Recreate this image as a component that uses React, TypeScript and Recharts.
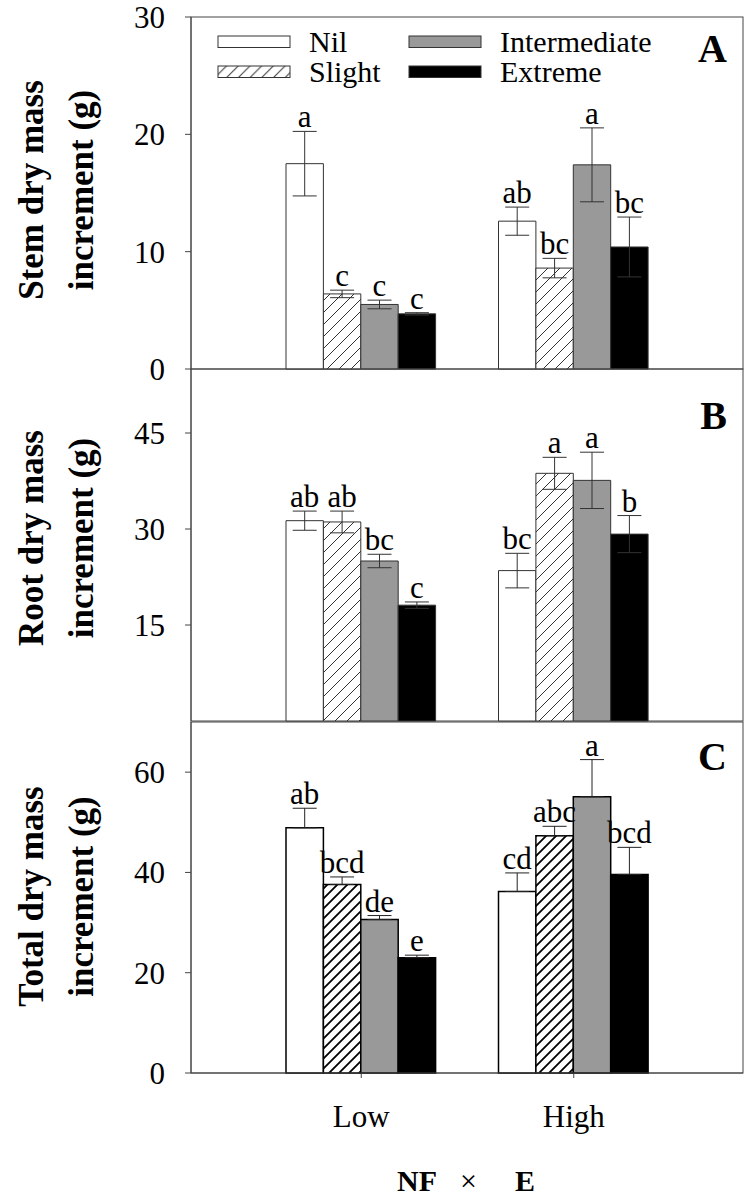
import React from 'react';
import { BarChart, Bar, XAxis, YAxis, ErrorBar, LabelList } from 'recharts';

// ---------- data ----------
const groups = ['Low', 'High'];
const seriesNames = ['Nil', 'Slight', 'Intermediate', 'Extreme'];

// Panel A: stem dry mass increment (g)
const stemNil = [17.5, 12.6];
const stemSlight = [6.4, 8.6];
const stemInter = [5.5, 17.4];
const stemExtreme = [4.7, 10.4];
const stemNilSe = [2.75, 1.2];
const stemSlightSe = [0.32, 0.83];
const stemInterSe = [0.37, 3.15];
const stemExtremeSe = [0.1, 2.55];
const stemNilLet = ['a', 'ab'];
const stemSlightLet = ['c', 'bc'];
const stemInterLet = ['c', 'a'];
const stemExtremeLet = ['c', 'bc'];

// Panel B: root dry mass increment (g)
const rootNil = [31.3, 23.5];
const rootSlight = [31.1, 38.7];
const rootInter = [25.0, 37.6];
const rootExtreme = [18.1, 29.2];
const rootNilSe = [1.5, 2.7];
const rootSlightSe = [1.7, 2.5];
const rootInterSe = [1.05, 4.4];
const rootExtremeSe = [0.5, 2.9];
const rootNilLet = ['ab', 'bc'];
const rootSlightLet = ['ab', 'a'];
const rootInterLet = ['bc', 'a'];
const rootExtremeLet = ['c', 'b'];

// Panel C: total dry mass increment (g) (upper error only)
const totalNil = [48.9, 36.2];
const totalSlight = [37.6, 47.3];
const totalInter = [30.6, 55.1];
const totalExtreme = [23.0, 39.6];
const totalNilSe = [3.9, 3.7];
const totalSlightSe = [1.5, 1.9];
const totalInterSe = [0.8, 7.4];
const totalExtremeSe = [0.5, 5.4];
const totalNilLet = ['ab', 'cd'];
const totalSlightLet = ['bcd', 'abc'];
const totalInterLet = ['de', 'a'];
const totalExtremeLet = ['e', 'bcd'];

const stemTicks = [0, 10, 20, 30];
const rootTicks = [15, 30, 45];
const totalTicks = [0, 20, 40, 60];

// ---------- helpers ----------
const SERIF = '"Liberation Serif", Tinos, "Times New Roman", Times, serif';
const keys = ['nil', 'slight', 'inter', 'extreme'];

function buildRows(vals: number[][], ses: number[][], oneSided: boolean) {
  return groups.map((g, i) => {
    const row: any = { group: g };
    keys.forEach((k, j) => {
      row[k] = vals[j][i];
      row[k + 'Se'] = oneSided ? [0, ses[j][i]] : ses[j][i];
    });
    return row;
  });
}

const stemRows = buildRows(
  [stemNil, stemSlight, stemInter, stemExtreme],
  [stemNilSe, stemSlightSe, stemInterSe, stemExtremeSe],
  false
);
const rootRows = buildRows(
  [rootNil, rootSlight, rootInter, rootExtreme],
  [rootNilSe, rootSlightSe, rootInterSe, rootExtremeSe],
  false
);
const totalRows = buildRows(
  [totalNil, totalSlight, totalInter, totalExtreme],
  [totalNilSe, totalSlightSe, totalInterSe, totalExtremeSe],
  true
);

const makeLetter = (letters: string[], se: number[]) => (props: any) => {
  const { x, y, width, height, value, index } = props;
  if (value == null || !height) return null;
  const pxPer = Math.abs(height) / value;
  const top = y - se[index] * pxPer;
  return (
    <text
      x={x + width / 2}
      y={top - 4}
      textAnchor="middle"
      fontFamily={SERIF}
      fontSize={31}
      fill="#000"
    >
      {letters[index]}
    </text>
  );
};

const yTitle = (line1: string, line2: string, shift: number) => (props: any) => {
  const vb = props.viewBox || {};
  const cy = vb.y + vb.height / 2 + shift;
  const x1 = vb.x + 43;
  const x2 = vb.x + 93;
  return (
    <g>
      <text
        x={x1}
        y={cy}
        transform={`rotate(-90, ${x1}, ${cy})`}
        textAnchor="middle"
        fontFamily={SERIF}
        fontWeight="bold"
        fontSize={35}
        fill="#000"
      >
        {line1}
      </text>
      <text
        x={x2}
        y={cy}
        transform={`rotate(-90, ${x2}, ${cy})`}
        textAnchor="middle"
        fontFamily={SERIF}
        fontWeight="bold"
        fontSize={35}
        fill="#000"
      >
        {line2}
      </text>
    </g>
  );
};

const xTitle = (props: any) => {
  const vb = props.viewBox || {};
  const cx = vb.x + vb.width / 2;
  return (
    <text x={cx - 70} y={vb.y + 118} fontFamily={SERIF} fontSize={30} fill="#000">
      <tspan fontWeight="bold">NF</tspan>
      <tspan dx={23}>×</tspan>
      <tspan dx={38} fontWeight="bold">E</tspan>
    </text>
  );
};

const AXIS = '#444';
const tickStyle = { fontFamily: SERIF, fontSize: 31, fill: '#000' };

const Hatch = ({ id, size, color, sw }: { id: string; size: number; color: string; sw: number }) => (
  <defs>
    <pattern id={id} patternUnits="userSpaceOnUse" width={size} height={size}>
      <rect x={0} y={0} width={size} height={size} fill="#fff" />
      <path
        d={`M0,${size} L${size},0 M${-size / 4},${size / 4} L${size / 4},${-size / 4} M${size * 0.75},${size * 1.25} L${size * 1.25},${size * 0.75}`}
        stroke={color}
        strokeWidth={sw}
      />
    </pattern>
  </defs>
);

const LegendBlock = () => {
  const cols = [218, 409];
  const rows = [36, 66];
  const fills = ['#ffffff', 'url(#hatchLeg)', '#999999', '#000000'];
  return (
    <g>
      {seriesNames.map((name, i) => {
        const col = i < 2 ? 0 : 1;
        const row = i % 2;
        const x = cols[col];
        const y = rows[row];
        return (
          <g key={name}>
            <rect x={x} y={y} width={72} height={11.5} fill={fills[i]} stroke="#333" strokeWidth={1} />
            <text x={x + 91} y={y + 16} fontFamily={SERIF} fontSize={30} fill="#000">
              {name}
            </text>
          </g>
        );
      })}
    </g>
  );
};

type PanelProps = {
  rows: any[];
  domain: [number, number];
  ticks: number[];
  top: number;
  height: number;
  marginTop: number;
  marginBottom: number;
  plotH: number;
  hatchId: string;
  hatchSize: number;
  hatchColor: string;
  hatchSw: number;
  barStroke: string;
  barSw: number;
  errStroke: string;
  letters: string[][];
  ses: number[][];
  title: [string, string];
  titleShift: number;
  panel: string;
  panelY: number;
  bottom: boolean;
  legend?: boolean;
};

const PLOT_LEFT = 191;
const PLOT_RIGHT = 743;

const Panel = (p: PanelProps) => {
  const fills = ['#ffffff', `url(#${p.hatchId})`, '#999999', '#000000'];
  return (
    <div style={{ position: 'absolute', left: 0, top: p.top, width: 750, height: p.height }}>
      <BarChart
        width={750}
        height={p.height}
        data={p.rows}
        margin={{ top: p.marginTop, right: 750 - PLOT_RIGHT, bottom: p.marginBottom, left: 0 }}
        barGap={0}
        barSize={37.4}
      >
        <Hatch id={p.hatchId} size={p.hatchSize} color={p.hatchColor} sw={p.hatchSw} />
        {p.legend ? <Hatch id="hatchLeg" size={11.7} color="#333" sw={1} /> : null}
        <rect
          x={PLOT_LEFT}
          y={p.marginTop}
          width={PLOT_RIGHT - PLOT_LEFT}
          height={p.plotH}
          fill="none"
          stroke={AXIS}
          strokeWidth={1}
        />
        <XAxis
          dataKey="group"
          type="category"
          padding={{ left: 64, right: 63 }}
          stroke={AXIS}
          axisLine={{ stroke: AXIS }}
          tickLine={p.bottom ? { stroke: AXIS } : false}
          tick={p.bottom ? tickStyle : false}
          tickSize={5}
          tickMargin={27}
          height={p.bottom ? 60 : 0}
          interval={0}
          label={p.bottom ? { content: xTitle } : undefined}
        />
        <YAxis
          type="number"
          domain={p.domain}
          ticks={p.ticks}
          width={PLOT_LEFT}
          tickSize={6}
          tickMargin={20}
          tick={tickStyle}
          tickLine={{ stroke: AXIS }}
          axisLine={{ stroke: AXIS }}
          interval={0}
          label={{ content: yTitle(p.title[0], p.title[1], p.titleShift) }}
        />
        {keys.map((k, j) => (
          <Bar
            key={k}
            dataKey={k}
            name={seriesNames[j]}
            fill={fills[j]}
            stroke={p.barStroke}
            strokeWidth={p.barSw}
            isAnimationActive={false}
          >
            <ErrorBar
              dataKey={k + 'Se'}
              width={12}
              stroke={p.errStroke}
              strokeWidth={1}
              direction="y"
              isAnimationActive={false}
            />
            <LabelList dataKey={k} content={makeLetter(p.letters[j], p.ses[j])} />
          </Bar>
        ))}
        {p.legend ? <LegendBlock /> : null}
        <text
          x={PLOT_RIGHT - 16}
          y={p.panelY}
          textAnchor="end"
          fontFamily={SERIF}
          fontWeight="bold"
          fontSize={40}
          fill="#000"
        >
          {p.panel}
        </text>
      </BarChart>
    </div>
  );
};

export default function App() {
  return (
    <div style={{ position: 'absolute', left: 0, top: 0, width: 750, height: 1198, background: '#fff' }}>
      <Panel
        rows={stemRows}
        domain={[0, 30]}
        ticks={stemTicks}
        top={0}
        height={392}
        marginTop={17}
        marginBottom={23}
        plotH={352}
        hatchId="hatchA"
        hatchSize={12}
        hatchColor="#333"
        hatchSw={1}
        barStroke="#333"
        barSw={1}
        errStroke="#333"
        letters={[stemNilLet, stemSlightLet, stemInterLet, stemExtremeLet]}
        ses={[stemNilSe, stemSlightSe, stemInterSe, stemExtremeSe]}
        title={['Stem dry mass', 'increment (g)']}
        titleShift={-3}
        panel="A"
        panelY={62}
        bottom={false}
        legend
      />
      <Panel
        rows={rootRows}
        domain={[0, 55]}
        ticks={rootTicks}
        top={360}
        height={372}
        marginTop={9}
        marginBottom={11}
        plotH={352}
        hatchId="hatchB"
        hatchSize={12}
        hatchColor="#333"
        hatchSw={1}
        barStroke="#333"
        barSw={1}
        errStroke="#333"
        letters={[rootNilLet, rootSlightLet, rootInterLet, rootExtremeLet]}
        ses={[rootNilSe, rootSlightSe, rootInterSe, rootExtremeSe]}
        title={['Root dry mass', 'increment (g)']}
        titleShift={-7}
        panel="B"
        panelY={69}
        bottom={false}
      />
      <Panel
        rows={totalRows}
        domain={[0, 70]}
        ticks={totalTicks}
        top={712}
        height={486}
        marginTop={10}
        marginBottom={65}
        plotH={351}
        hatchId="hatchC"
        hatchSize={10}
        hatchColor="#000"
        hatchSw={1.8}
        barStroke="#000"
        barSw={1.5}
        errStroke="#222"
        letters={[totalNilLet, totalSlightLet, totalInterLet, totalExtremeLet]}
        ses={[totalNilSe, totalSlightSe, totalInterSe, totalExtremeSe]}
        title={['Total dry mass', 'increment (g)']}
        titleShift={-1}
        panel="C"
        panelY={58}
        bottom
      />
    </div>
  );
}
